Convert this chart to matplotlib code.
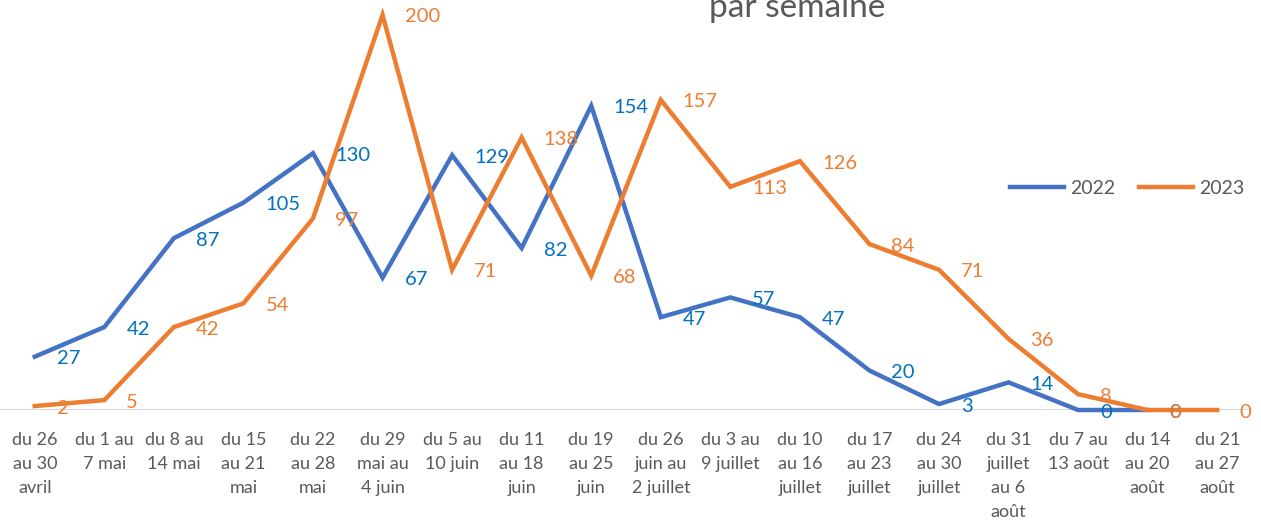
import matplotlib.pyplot as plt

semaines = ["du 26\nau 30\navril", "du 1 au\n7 mai", "du 8 au\n14 mai",
            "du 15\nau 21\nmai", "du 22\nau 28\nmai", "du 29\nmai au\n4 juin",
            "du 5 au\n10 juin", "du 11\nau 18\njuin", "du 19\nau 25\njuin",
            "du 26\njuin au\n2 juillet", "du 3 au\n9 juillet",
            "du 10\nau 16\njuillet", "du 17\nau 23\njuillet",
            "du 24\nau 30\njuillet", "du 31\njuillet\nau 6\naoût",
            "du 7 au\n13 août", "du 14\nau 20\naoût", "du 21\nau 27\naoût"]
val_2022 = [27, 42, 87, 105, 130, 67, 129, 82, 154, 47, 57, 47, 20, 3, 14, 0, 0]
val_2023 = [2, 5, 42, 54, 97, 200, 71, 138, 68, 157, 113, 126, 84, 71, 36, 8, 0, 0]

plt.rcParams['font.family'] = ['Lato', 'DejaVu Sans']

fig = plt.figure(figsize=(12.61, 5.28), dpi=100)
ax = fig.add_axes([0, 118 / 528, 1252 / 1261, 395 / 528])

bleu = "#4472C4"
orange = "#ED7D31"

ax.axhline(0, color="#D9D9D9", lw=1.5, zorder=1)
ax.plot(range(len(val_2022)), val_2022, color=bleu, lw=3.2, label="2022",
        clip_on=False, zorder=3, solid_joinstyle="miter")
ax.plot(range(len(val_2023)), val_2023, color=orange, lw=3.2, label="2023",
        clip_on=False, zorder=4, solid_joinstyle="miter")

for i, v in enumerate(val_2022):
    ax.annotate(str(v), (i, v), xytext=(22, -2), textcoords="offset pixels",
                ha="left", va="center", color="#0070C0", fontsize=14.5, zorder=5)
for i, v in enumerate(val_2023):
    ax.annotate(str(v), (i, v), xytext=(22, -2), textcoords="offset pixels",
                ha="left", va="center", color=orange, fontsize=14.5, zorder=6)

ax.set_xlim(-0.5, len(semaines) - 0.5)
ax.set_ylim(0, 200)
ax.set_xticks(range(len(semaines)))
ax.set_xticklabels(semaines, fontsize=13, color="#595959", linespacing=1.62)
ax.tick_params(axis="x", length=0, pad=16)
ax.set_yticks([])
for s in ax.spines.values():
    s.set_visible(False)

fig.text(797 / 1261, 1 - 17 / 528, "par semaine", ha="center", va="baseline",
         fontsize=24, color="#595959")

fig.legend(loc="center left", bbox_to_anchor=(1010 / 1261, 1 - 188 / 528),
           ncol=2, frameon=False, fontsize=14, handlelength=2.8,
           columnspacing=1.2, handletextpad=0.3, labelcolor="#595959",
           borderpad=0, borderaxespad=0)

fig.savefig("out.png", dpi=100)
